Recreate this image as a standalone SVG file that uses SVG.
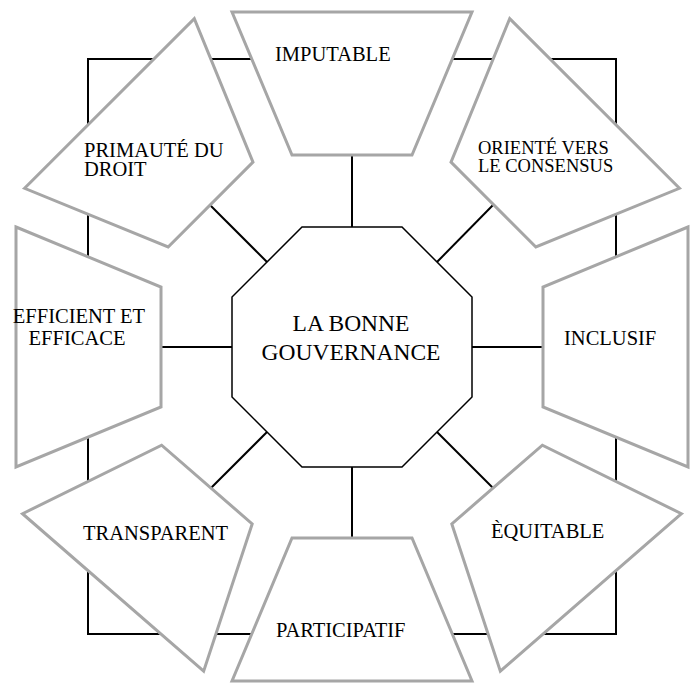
<svg xmlns="http://www.w3.org/2000/svg" width="694" height="683" viewBox="0 0 694 683">
<style>
.frame{fill:none;stroke:#000;stroke-width:2}
.conn{stroke:#000;stroke-width:2;fill:none}
.core{fill:#fff;stroke:#000;stroke-width:1.5}
.node{fill:#fff;stroke:#a6a6a6;stroke-width:3;stroke-linejoin:miter}
text{font-family:"Liberation Serif","Times New Roman",serif;fill:#000;font-size:20.5px}
.big{font-size:23.5px;text-anchor:middle}
.sm{font-size:18.5px}
.mid{text-anchor:middle}
</style>
<defs>
<polygon id="trap" points="-120,-71.5 120,-71.5 60,71.5 -60,71.5"/>
</defs>
<rect class="frame" x="88" y="59" width="528" height="575"/>
<g id="connectors">
<line class="conn" x1="352" y1="227" x2="352" y2="155"/>
<line class="conn" x1="352" y1="467" x2="352" y2="538"/>
<line class="conn" x1="232" y1="347" x2="161" y2="347"/>
<line class="conn" x1="472" y1="347" x2="543" y2="347"/>
<line class="conn" x1="267" y1="262" x2="208" y2="203"/>
<line class="conn" x1="437" y1="262" x2="495" y2="203"/>
<line class="conn" x1="267" y1="432" x2="209" y2="490"/>
<line class="conn" x1="437" y1="432" x2="495" y2="490"/>
</g>
<g id="center">
<polygon class="core" points="302,227 402,227 472,297 472,397 402,467 302,467 232,397 232,297"/>
<text class="big" x="351" y="331">LA BONNE</text>
<text class="big" x="351" y="360">GOUVERNANCE</text>
</g>
<g id="imputable">
<polygon class="node" points="232,12 472,12 412,155 292,155"/>
<text x="275" y="60.5">IMPUTABLE</text>
</g>
<g id="participatif">
<polygon class="node" points="292,538 412,538 472,681 232,681"/>
<text x="276" y="637">PARTICIPATIF</text>
</g>
<g id="efficient">
<polygon class="node" points="16,227 161,287 161,407 16,467"/>
<text class="mid" x="79" y="323">EFFICIENT ET</text>
<text class="mid" x="77" y="345">EFFICACE</text>
</g>
<g id="inclusif">
<polygon class="node" points="688,227 543,287 543,407 688,467"/>
<text x="564" y="345">INCLUSIF</text>
</g>
<g id="primaute">
<use href="#trap" class="node" transform="translate(160,154) rotate(-45)"/>
<text x="84" y="156.5">PRIMAUTÉ DU</text>
<text x="84" y="176">DROIT</text>
</g>
<g id="oriente">
<use href="#trap" class="node" transform="translate(544,154) rotate(45)"/>
<text class="sm" x="478" y="154">ORIENTÉ VERS</text>
<text class="sm" x="478" y="172">LE CONSENSUS</text>
</g>
<g id="transparent">
<use href="#trap" class="node" transform="translate(160,538.5) rotate(-139)"/>
<text x="83" y="540">TRANSPARENT</text>
</g>
<g id="equitable">
<use href="#trap" class="node" transform="translate(544,538.5) rotate(139)"/>
<text x="491" y="538">ÈQUITABLE</text>
</g>
</svg>
